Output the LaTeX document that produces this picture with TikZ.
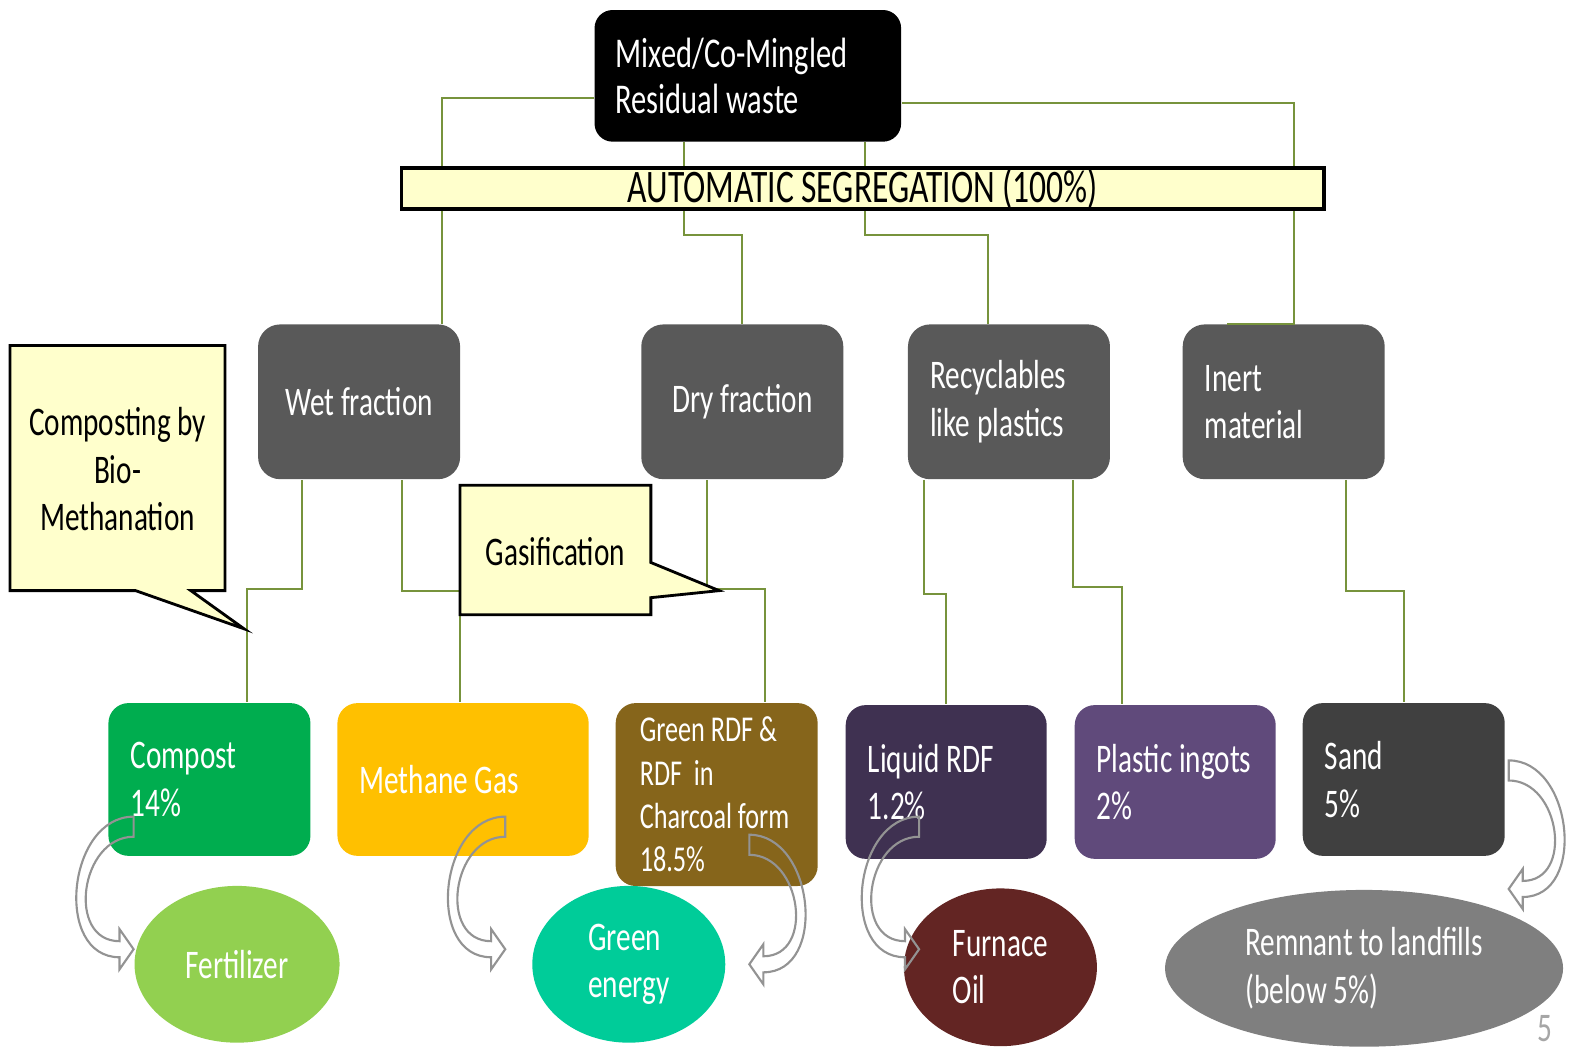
\documentclass[tikz,border=0pt]{standalone}
\usepackage{fontspec}
\setmainfont{Carlito}[FakeStretch=0.72]
\usetikzlibrary{calc,shapes.geometric}
\hyphenpenalty=10000
\exhyphenpenalty=10000

\definecolor{linkgreen}{HTML}{77933C}
\definecolor{fracgray}{HTML}{595959}
\definecolor{notefill}{HTML}{FFFFCC}
\definecolor{compostgreen}{HTML}{00AD4F}
\definecolor{methaneorange}{HTML}{FFC000}
\definecolor{rdfbrown}{HTML}{86651B}
\definecolor{liquidpurple}{HTML}{3F3151}
\definecolor{ingotpurple}{HTML}{604A7B}
\definecolor{sandgray}{HTML}{404040}
\definecolor{fertgreen}{HTML}{92D050}
\definecolor{energyteal}{HTML}{00CC99}
\definecolor{oilred}{HTML}{632523}
\definecolor{remnantgray}{HTML}{7F7F7F}

\begin{document}
\begin{tikzpicture}[
    x=0.01cm, y=-0.01cm,
    every node/.style={font=\fontsize{11.5}{13.4}\selectfont, text=white},
    fraction/.style={fill=fracgray, rounded corners=0.22cm,
      minimum height=1.54cm, inner xsep=0.22cm, text width=1.57cm},
    product/.style={rounded corners=0.2cm, minimum height=1.52cm,
      inner xsep=0.22cm, align=flush left},
    result/.style={ellipse, inner sep=0pt, minimum height=1.56cm, align=left},
    note/.style={fill=notefill, draw=black, line width=0.8pt},
    notetext/.style={text=black, align=center},
    link/.style={draw=linkgreen, line width=0.6pt},
    bent/.style={draw=gray!85, line width=0.6pt}
  ]
  \useasboundingbox (0,0) rectangle (1568,1047);

  % waste
  \node[fill=black, rounded corners=0.18cm, minimum height=1.31cm, inner xsep=0.21cm,
    text width=2.63cm, align=flush left, font=\fontsize{12}{13.1}\selectfont]
    (mixed) at (744.5,75.5) {Mixed/Co-Mingled\\Residual~waste};

  % fractions
  \node[fraction, align=flush center] (wet) at (357.5,400) {Wet~fraction};
  \node[fraction, align=flush center] (dry) at (739,400) {Dry~fraction};
  \node[fraction, align=flush left] (recyc) at (1004.5,400) {Recyclables\\like~plastics};
  \node[fraction, align=flush left] (inert) at (1278,400) {Inert\\material};

  % products
  \node[product, fill=compostgreen, text width=1.57cm] (compost) at (208.5,776) {Compost\\14\%};
  \node[product, fill=methaneorange, text width=2.06cm] (methane) at (461,776) {Methane~Gas};
  \node[product, fill=rdfbrown, text width=1.53cm, inner xsep=0.24cm, minimum height=1.82cm,
    font=\fontsize{10.3}{12.3}\selectfont] (rdf) at (713.5,791)
    {Green~RDF~\&\\RDF~~in\\Charcoal~form\\18.5\%};
  \node[product, fill=liquidpurple, text width=1.56cm, minimum height=1.53cm] (liquid) at (942,778.5) {Liquid~RDF\\1.2\%};
  \node[product, fill=ingotpurple, text width=1.56cm, minimum height=1.53cm] (ingots) at (1170,778.5) {Plastic~ingots\\2\%};
  \node[product, fill=sandgray, text width=1.57cm] (sand) at (1397.5,776) {Sand\\5\%};

  % end uses
  \node[result, fill=fertgreen, minimum width=2.04cm] (fert) at (236,960) {Fertilizer};
  \node[result, fill=energyteal, minimum width=1.92cm] (energy) at (626,960) {Green\\energy};
  \node[result, fill=oilred, minimum width=1.92cm, minimum height=1.57cm] (oil) at (996,963) {Furnace\\Oil};
  \node[result, fill=remnantgray, minimum width=3.96cm] (remnant) at (1358,964) {Remnant to landfills\\(below 5\%)};

  % links
  \draw[link] ($(mixed.west)+(0,22)$) -| ($(wet.north)+(82.5,0)$);
  \draw[link] ($(mixed.east)+(0,27)$) -| ($(inert.north)+(10,0)$) -- ($(inert.north)+(-56,0)$);
  \draw[link] ($(mixed.south)+(-63.5,0)$) -- ++(0,92) -| (dry.north);
  \draw[link] ($(mixed.south)+(116.5,0)$) -- ++(0,92) -| ($(recyc.north)+(-20.5,0)$);
  \draw[link] ($(wet.south)+(-56.5,0)$) -- ++(0,109) -| ($(compost.north)+(37.5,0)$);
  \draw[link] ($(wet.south)+(42.5,0)$) -- ++(0,111) -| ($(methane.north)+(-3,0)$);
  \draw[link] ($(dry.south)+(-35,0)$) -- ++(0,109) -| ($(rdf.north)+(48.5,0)$);
  \draw[link] ($(recyc.south)+(-84.5,0)$) -- ++(0,114) -| (liquid.north);
  \draw[link] ($(recyc.south)+(63.5,0)$) -- ++(0,107) -| ($(ingots.north)+(-53,0)$);
  \draw[link] ($(inert.south)+(62,0)$) -- ++(0,111) -| (sand.north);

  % segregation bar
  \node[note, line width=1pt, text=black, minimum width=9.18cm, minimum height=0.41cm,
    inner sep=0pt, font=\fontsize{13.2}{14}\selectfont]
    (seg) at (859,187.5) {AUTOMATIC SEGREGATION (100\%)};

  % callouts
  \draw[note] (10,344) -- (224,344) -- (224,588) -- (190,588) -- (243,626)
    -- (135,588) -- (10,588) -- cycle;
  \node[notetext] (biometh) at (117,467) {Composting by\\Bio-\\Methanation};
  \draw[note] (458,483) -- (648,483) -- (648,560) -- (716,588) -- (648,595)
    -- (648,612) -- (458,612) -- cycle;
  \node[notetext] (gasif) at (553,549) {Gasification};

  % bent arrows
  \foreach \bx/\bb/\by/\ty/\bo in {133/119/813/945/180, 503/489/813/945/180,
      746/760/831/960/0, 915/901/813/945/180, 1502/1516/757/885/0}
    \draw[bent] (\bx,\by) to[out=\bo,in=\bo,looseness=1.2] (\bb,\ty+8)
      -- (\bb,\ty+20) -- (\bx,\ty) -- (\bb,\ty-20) -- (\bb,\ty-8)
      to[out=\bo,in=\bo,looseness=1.3] (\bx,\by+20) -- cycle;

  \node[text=gray!70, anchor=south, inner sep=0pt] (pageno) at (1538,1038) {5};
\end{tikzpicture}
\end{document}
